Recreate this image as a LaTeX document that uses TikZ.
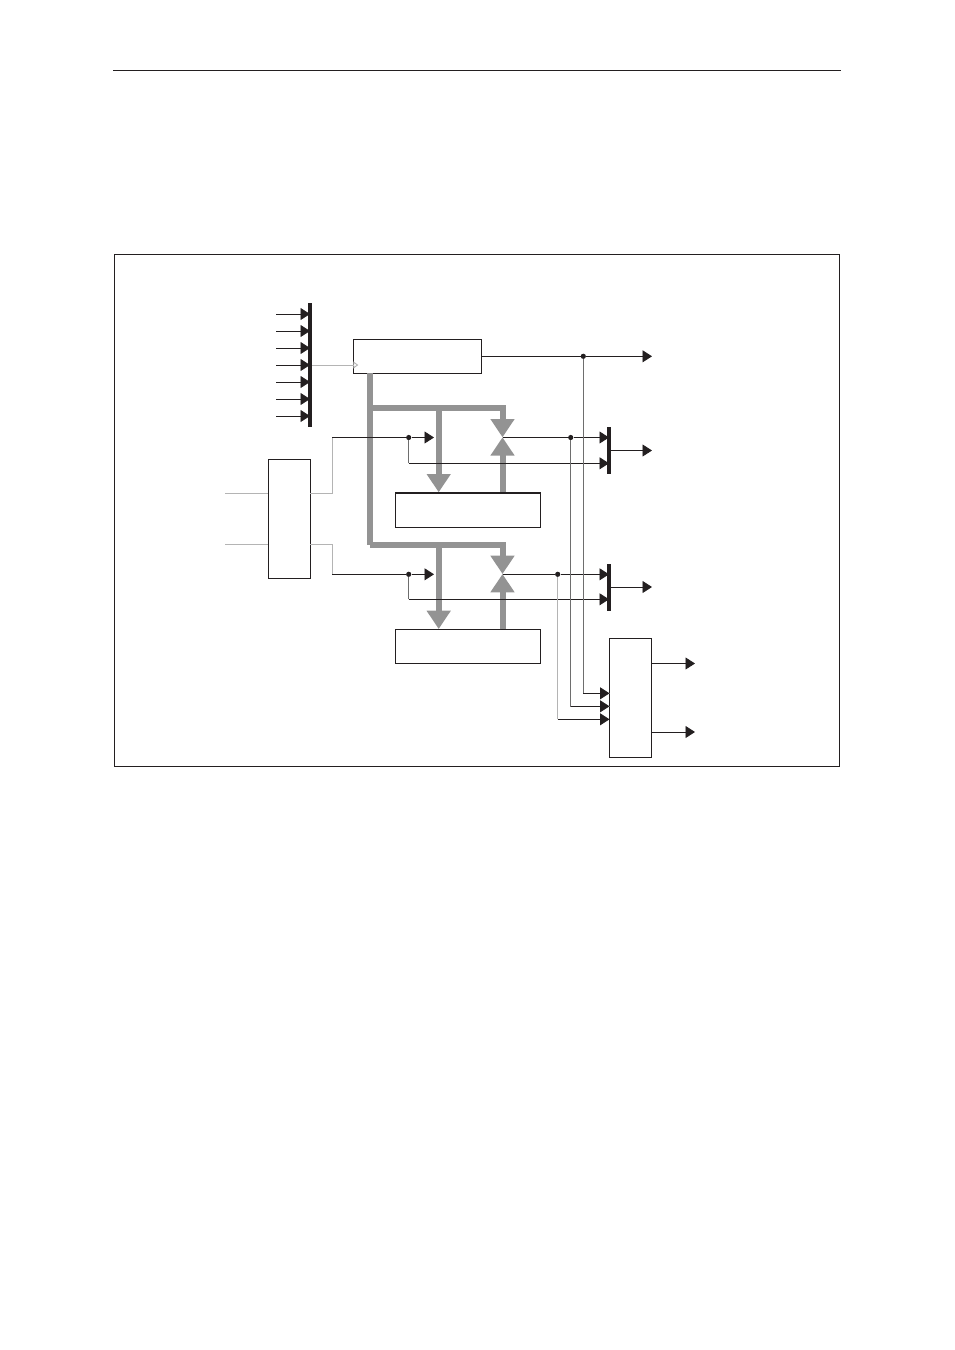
\documentclass[tikz,border=0pt]{standalone}
\usepackage{tikz}
\usetikzlibrary{arrows.meta,calc,positioning}
\definecolor{ink}{HTML}{231F20}
\definecolor{busgray}{HTML}{939393}
\definecolor{midwire}{HTML}{6E6E6E}
\definecolor{lightwire}{HTML}{B4B4B4}
\tikzset{
  flowarr/.style={-{Triangle[length=9.5pt,width=12pt]},line width=0.9pt,color=ink},
  wire/.style={line width=0.9pt,color=ink},
  midline/.style={line width=0.9pt,color=midwire},
  lightline/.style={line width=0.9pt,color=lightwire},
  clkarr/.style={-{Triangle[open,length=5pt,width=7pt,fill=white]},line width=0.9pt,color=lightwire},
  busarr/.style={-{Triangle[length=18.3pt,width=23pt]},line width=6pt,color=busgray},
  busline/.style={line width=6pt,color=busgray},
  blockbox/.style={draw=ink,fill=white,line width=0.9pt,inner sep=0pt,outer sep=0pt,anchor=north west},
  barbox/.style={fill=ink,inner sep=0pt,outer sep=0pt,minimum width=3.6pt},
  dotnode/.style={circle,fill=ink,inner sep=0pt,minimum size=5.2pt}
}

\begin{document}
\begin{tikzpicture}[x=1pt,y=-1pt]
  \useasboundingbox (0,0) rectangle (954,1350);
  \draw[wire] (113,70.5) -- (841,70.5);
  \draw[wire,line width=0.8pt] (114.5,254.5) rectangle (839.5,766.5);

  % blocks
  \node[blockbox,minimum width=128pt,minimum height=34pt] (reg) at (353.3,339.3) {};
  \node[blockbox,minimum width=42pt,minimum height=119pt] (conv) at (268.3,459.3) {};
  \node[blockbox,minimum width=145.4pt,minimum height=34.6pt] (ramA) at (395.3,492.7) {};
  \node[blockbox,minimum width=145.4pt,minimum height=34.6pt] (ramB) at (395.3,629.3) {};
  \node[blockbox,minimum width=42.4pt,minimum height=119pt] (logic) at (609.3,638.3) {};
  \draw[wire,line width=1.6pt] (reg.north east) -- (reg.south east);

  % thick busses
  \coordinate (valveA) at (502.5,437.3);
  \coordinate (valveB) at (502.5,574);
  \coordinate (cornerA) at (370.3,407.7);
  \coordinate (cornerB) at (370.3,544.5);
  \draw[busline] (reg.south -| cornerB) -- (cornerB);
  \draw[busarr] (cornerA) -| (valveA);
  \draw[busarr] (cornerB) -| (valveB);
  \draw[busarr] (438.7,407.7) -- (438.7,492.3);
  \draw[busarr] (438.7,544.5) -- (438.7,629);
  \draw[busarr] (ramA.north -| valveA) -- (valveA);
  \draw[busarr] (ramB.north -| valveB) -- (valveB);
  \draw[wire,line width=1.6pt] (ramA.north west) -- (ramA.north east);

  % input bus
  \node[barbox,minimum width=4pt,minimum height=124pt] (inbus) at (310.3,365) {};
  \foreach \y in {314,331,348,365,382,399,416}
    \draw[flowarr] (276,\y) -- (310,\y);
  \coordinate (clk) at (358.3,365);
  \draw[clkarr] (inbus.east |- clk) -- (clk);

  % output bars
  \node[barbox,minimum height=47pt] (barA) at (609,450.5) {};
  \node[barbox,minimum height=47pt] (barB) at (609,587) {};

  % left side
  \coordinate (inA) at (225,493);
  \coordinate (inB) at (225,544);
  \coordinate (kneeA) at (332,437.5);
  \coordinate (kneeB) at (332,574.3);
  \node[dotnode] (dotA) at (408.7,437.5) {};
  \node[dotnode] (dotB) at (408.7,574.3) {};
  \coordinate (tipA) at (434,437.5);
  \coordinate (tipB) at (434,574.3);
  \draw[lightline] (inA) -- (inA -| conv.west);
  \draw[lightline] (inB) -- (inB -| conv.west);
  \draw[lightline] (inA -| conv.east) -| (kneeA);
  \draw[lightline] (inB -| conv.east) -| (kneeB);
  \draw[wire] (kneeA) -- (dotA);
  \draw[wire] (kneeB) -- (dotB);
  \draw[flowarr] (dotA) -- (tipA);
  \draw[flowarr] (dotB) -- (tipB);
  \coordinate (backA) at (408.7,463.3);
  \coordinate (backB) at (408.7,599.3);
  \draw[midline] (dotA) -- (backA);
  \draw[midline] (dotB) -- (backB);
  \draw[flowarr] (backA) -- (backA -| barA);
  \draw[flowarr] (backB) -- (backB -| barB);

  % right side
  \node[dotnode] (dotOut) at (583.3,356.3) {};
  \node[dotnode] (dotC) at (570.7,437.5) {};
  \node[dotnode] (dotD) at (557.7,574.3) {};
  \coordinate (outReg) at (652,356.3);
  \coordinate (outA) at (652,450.5);
  \coordinate (outB) at (652,587);
  \coordinate (outX) at (695,663.5);
  \coordinate (outY) at (695,732);
  \draw[wire] (reg.east |- dotOut) -- (dotOut);
  \draw[flowarr] (dotOut) -- (outReg);
  \draw[wire] (valveA |- dotC) -- (dotC);
  \draw[wire] (valveB |- dotD) -- (dotD);
  \draw[flowarr] (dotC) -- (dotC -| barA);
  \draw[flowarr] (dotD) -- (dotD -| barB);
  \draw[flowarr] (barA) -- (outA);
  \draw[flowarr] (barB) -- (outB);
  \draw[flowarr] (logic.east |- outX) -- (outX);
  \draw[flowarr] (logic.east |- outY) -- (outY);

  % feeds into the logic block
  \coordinate (feedA) at (609.5,693.3);
  \coordinate (feedB) at (609.5,706.3);
  \coordinate (feedC) at (609.5,719.3);
  \draw[midline] (dotOut) |- (feedA);
  \draw[midline] (dotC) |- (feedB);
  \draw[lightline] (dotD) -- (dotD |- feedC);
  \draw[flowarr] (dotOut |- feedA) -- (feedA);
  \draw[flowarr] (dotC |- feedB) -- (feedB);
  \draw[flowarr] (dotD |- feedC) -- (feedC);
\end{tikzpicture}
\end{document}
